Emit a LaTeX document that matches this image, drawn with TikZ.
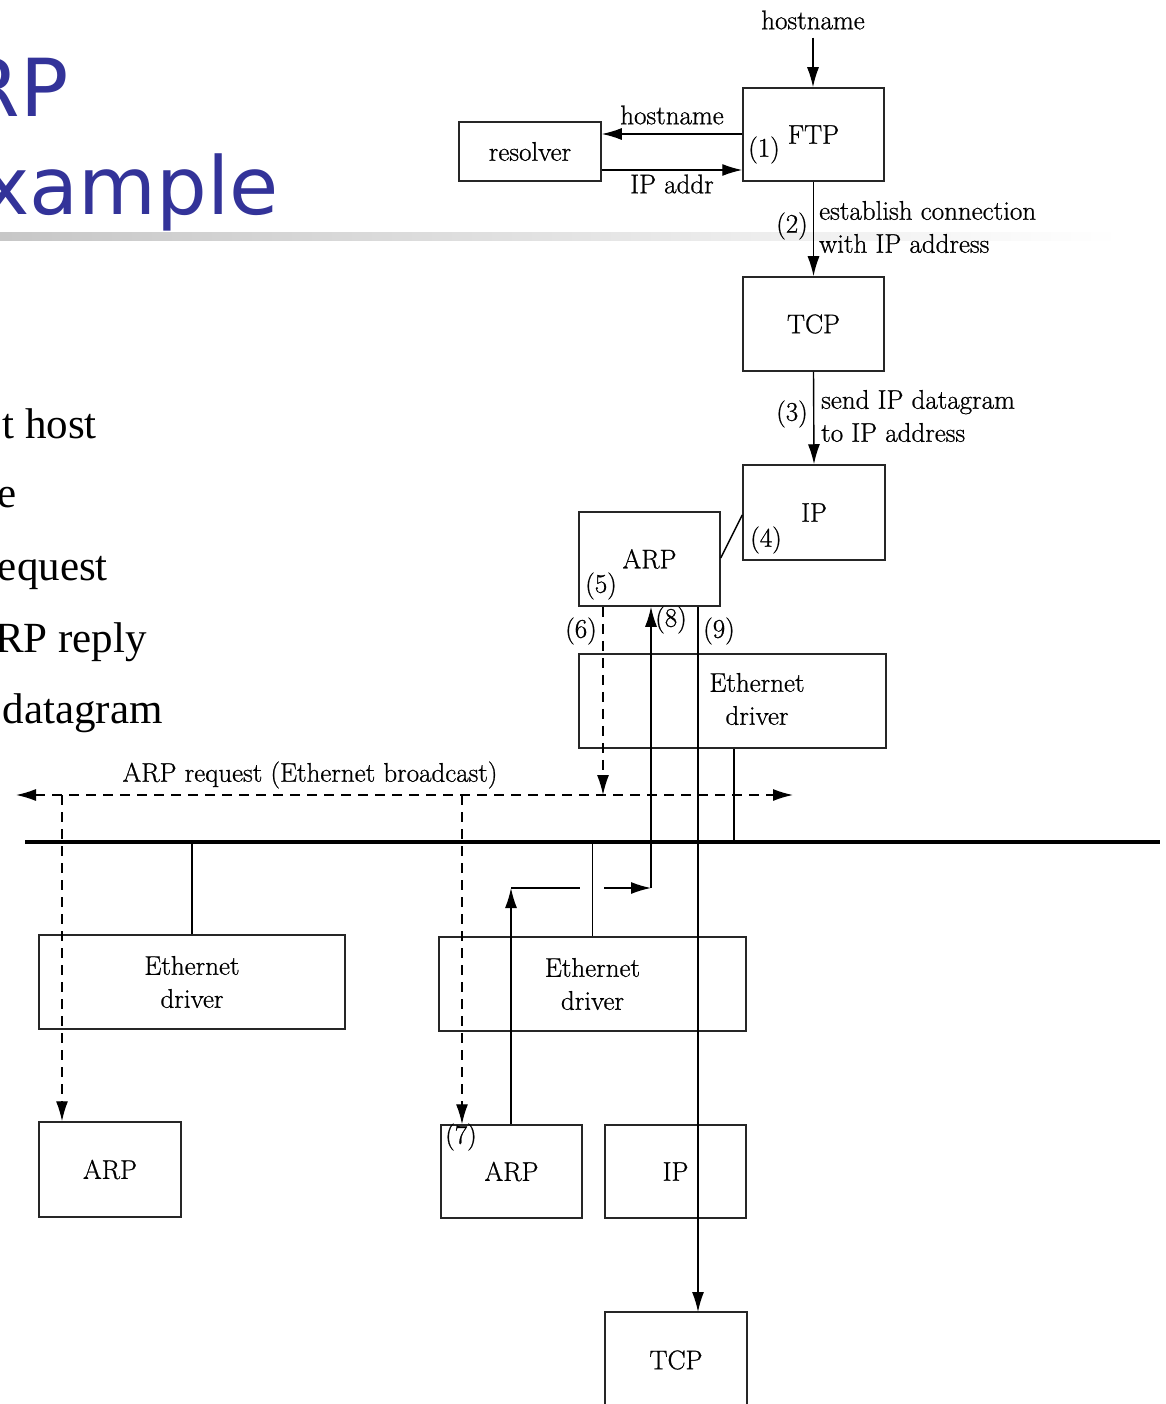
\documentclass[tikz,border=0pt]{standalone}
\usepackage{fontspec}
\newfontfamily\ttlfont{DejaVu Sans}
\newfontfamily\bulfont{Liberation Serif}
\newfontfamily\dgfam{Latin Modern Roman}[FakeBold=0.8]
\usetikzlibrary{arrows.meta}
\definecolor{ttlblue}{HTML}{333399}
\newcommand\diagfont{\dgfam\fontsize{27}{33}\selectfont}
\begin{document}
\begin{tikzpicture}[x=1pt,y=-1pt,
  box/.style={draw=black!85, line width=1.5pt, inner sep=0, font=\diagfont, align=center},
  lbl/.style={font=\diagfont, inner sep=0, align=left},
  arr/.style={-{Latex[length=20pt,width=12pt]}, line width=1.4pt},
  ln/.style={line width=1.4pt},
  dsh/.style={dash pattern=on 10pt off 7pt, line width=1.4pt},
  ttl/.style={font=\ttlfont\fontsize{80}{90}\selectfont, text=ttlblue, inner sep=0},
  bul/.style={font=\bulfont\fontsize{43}{50}\selectfont, inner sep=0, anchor=base east}
]
\useasboundingbox (0,0) rectangle (1165,1404);
\fill[white] (0,0) rectangle (1165,1404);

% title
\shade[left color=black!22, right color=white] (0,233) rectangle (1120,241);
\node[ttl, anchor=base east] (t1) at (69,117) {RP};
\node[ttl, anchor=base east] (t2) at (279,215) {xample};

% bullets
\node[bul] (b1) at (97,438) {t host};
\node[bul] (b2) at (17,507) {e};
\node[bul] (b3) at (108,580) {equest};
\node[bul] (b4) at (147,652) {RP reply};
\node[bul] (b5) at (163,723) {datagram};

% boxes, sending host
\node[box, minimum width=141pt, minimum height=93pt] (ftp) at (813.5,134.5) {FTP};
\node[box, minimum width=142pt, minimum height=59pt] (res) at (530,151.5) {resolver};
\node[box, minimum width=141pt, minimum height=94pt] (tcp1) at (813.5,324) {TCP};
\node[box, minimum width=142pt, minimum height=95pt] (ip1) at (814,512.5) {IP};
\node[box, minimum width=141pt, minimum height=94pt] (arp1) at (649.5,559) {ARP};
\node[box, minimum width=307pt, minimum height=94pt] (eth1) at (732.5,701) {};
\node[lbl, align=center] (eth1t) at (757,699) {Ethernet\\driver};

% boxes, other hosts
\node[box, minimum width=306pt, minimum height=94pt] (ethL) at (192,982) {Ethernet\\driver};
\node[box, minimum width=307pt, minimum height=94pt] (ethM) at (592.5,984) {Ethernet\\driver};
\node[box, minimum width=142pt, minimum height=95pt] (arpL) at (110,1169.5) {ARP};
\node[box, minimum width=141pt, minimum height=93pt] (arpM) at (511.5,1171.5) {ARP};
\node[box, minimum width=141pt, minimum height=93pt] (ipM) at (675.5,1171.5) {IP};
\node[box, minimum width=142pt, minimum height=96pt] (tcpM) at (676,1360) {TCP};

% text labels
\node[lbl] (hn) at (813,20) {hostname};
\node[lbl] (hn2) at (672,115) {hostname};
\node[lbl] (ipa) at (672,184) {IP addr};
\node[lbl] (n1) at (764,150) {(1)};
\node[lbl] (n2) at (792,226) {(2)};
\node[lbl] (n3) at (792,414) {(3)};
\node[lbl] (n4) at (766,540) {(4)};
\node[lbl] (n5) at (601,586) {(5)};
\node[lbl] (n6) at (581,631) {(6)};
\node[lbl] (n7) at (461,1137) {(7)};
\node[lbl] (n8) at (671,620) {(8)};
\node[lbl] (n9) at (719,631) {(9)};
\node[lbl, anchor=west] (est) at (819,227) {establish connection\\with IP address};
\node[lbl, anchor=west] (snd) at (821,416) {send IP datagram\\to IP address};
\node[lbl] (bct) at (310,775) {ARP request (Ethernet broadcast)};

% helper coordinates
\coordinate (hy) at (0,134);
\coordinate (iy) at (0,170);
\coordinate (ay) at (0,558);
\coordinate (by) at (0,515);
\coordinate (bL) at (16,795);
\coordinate (bR) at (793,795);
\coordinate (b6) at (603,795);
\coordinate (b62) at (62,795);
\coordinate (b462) at (462,795);
\coordinate (nL) at (25,842);
\coordinate (nR) at (1160,842);
\coordinate (e1) at (734,842);
\coordinate (t9) at (698,1312);
\coordinate (r1) at (511,888);
\coordinate (r2) at (580,888);
\coordinate (r3) at (604,888);
\coordinate (r4) at (651,888);

% connectors, sending host
\draw[arr] ([yshift=-8pt]hn.south) -- (ftp.north -| hn);
\draw[arr] (ftp.west |- hy) -- (res.east |- hy);
\draw[arr] (res.east |- iy) -- (ftp.west |- iy);
\draw[arr] (ftp.south) -- (tcp1.north);
\draw[arr] (tcp1.south) -- (ip1.north);
\draw[ln] (arp1.east |- ay) -- (ip1.west |- by);

% network
\draw[line width=4pt] (nL) -- (nR);
\draw[dsh, {Latex[length=20pt,width=12pt]}-{Latex[length=20pt,width=12pt]}] (bL) -- (bR);
\draw[dsh, -{Latex[length=20pt,width=12pt]}] (arp1.south -| b6) -- (b6);
\draw[dsh, -{Latex[length=20pt,width=12pt]}] (b62) -- (arpL.north -| b62);
\draw[dsh, -{Latex[length=20pt,width=12pt]}] (b462) -- (arpM.north -| b462);
\draw[ln] (eth1.south -| e1) -- (e1);
\draw[ln] (ethL.north) -- (ethL.north |- nL);
\draw[ln] (ethM.north) -- (ethM.north |- nL);

% reply and datagram
\draw[arr] (arpM.north -| r1) -- (r1);
\draw[ln] (r1) -- (r2);
\draw[arr] (r3) -- (r4);
\draw[arr] (r4) -- (arp1.south -| r4);
\draw[arr] (arp1.south -| t9) -- (t9);
\end{tikzpicture}
\end{document}
